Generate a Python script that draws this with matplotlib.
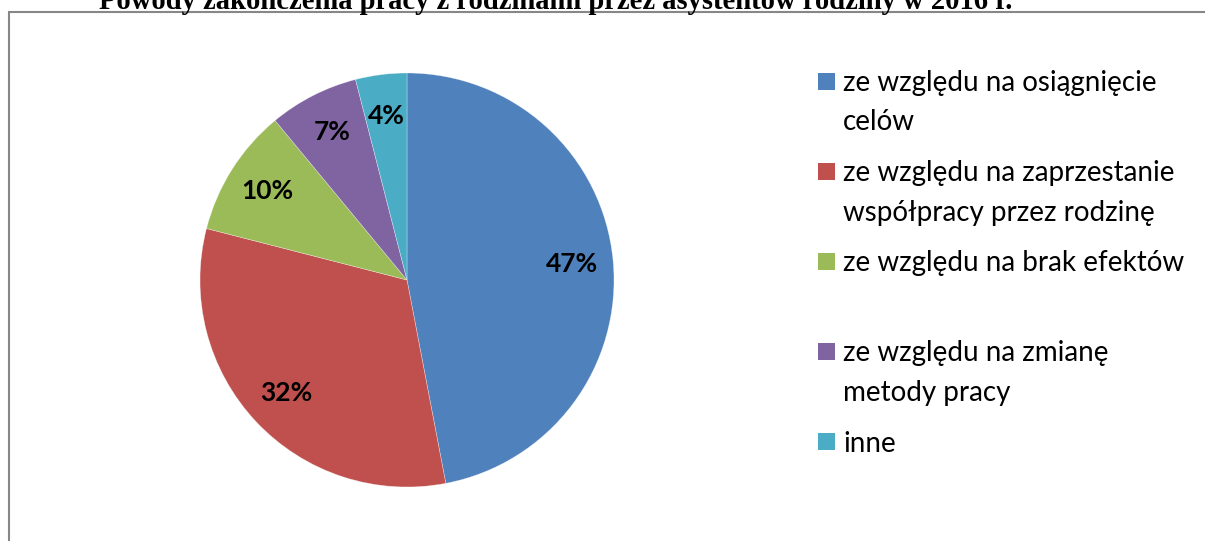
import matplotlib
matplotlib.use("Agg")
import matplotlib.pyplot as plt
from matplotlib.patches import Rectangle

title = "Powody zakończenia pracy z rodzinami przez asystentów rodziny w 2016 r."
labels = [
    "ze względu na osiągnięcie\ncelów",
    "ze względu na zaprzestanie\nwspółpracy przez rodzinę",
    "ze względu na brak efektów",
    "ze względu na zmianę\nmetody pracy",
    "inne",
]
values = [47, 32, 10, 7, 4]
colors = ["#4F81BD", "#C0504D", "#9BBB59", "#8064A2", "#4BACC6"]

W, H = 1205, 541
fig = plt.figure(figsize=(W / 100, H / 100), dpi=100)

# chart area border (only left and top visible)
fig.patches.append(Rectangle((9 / W, -0.1), 1.2, 1.1 - 12 / H, transform=fig.transFigure,
                             fill=False, edgecolor="#878787", linewidth=1.5))

# title is cropped at the top in the original
fig.text(556 / W, 1 - 9 / H, title, ha="center", va="baseline",
         family="Liberation Serif", weight="bold", fontsize=20.6)

# pie centre (407, 280), radius 207 px
ax = fig.add_axes([(407 - 207) / W, (H - 280 - 207) / H, 414 / W, 414 / H])
wedges, texts, autotexts = ax.pie(
    values, colors=colors, startangle=90, counterclock=False,
    autopct="%d%%", pctdistance=0.8,
    wedgeprops=dict(edgecolor="#ffffff80", linewidth=0.4),
    textprops=dict(family="Lato", weight="bold", fontsize=19, color="black"))
ax.set_xlim(-1, 1)
ax.set_ylim(-1, 1)
ax.set_aspect("equal")
ax.axis("off")

# legend drawn like Excel: marker aligned with first line of each entry
for i, (lab, col) in enumerate(zip(labels, colors)):
    y = 81 + i * 90
    fig.patches.append(Rectangle((818 / W, 1 - (y + 8.5) / H), 17 / W, 17 / H,
                                 transform=fig.transFigure, facecolor=col, edgecolor="none"))
    for j, line in enumerate(lab.split("\n")):
        fig.text(843 / W, 1 - (y + j * 39) / H, line, ha="left", va="center_baseline",
                 family="Lato", fontsize=20, color="black")

fig.savefig("out.png", dpi=100)
